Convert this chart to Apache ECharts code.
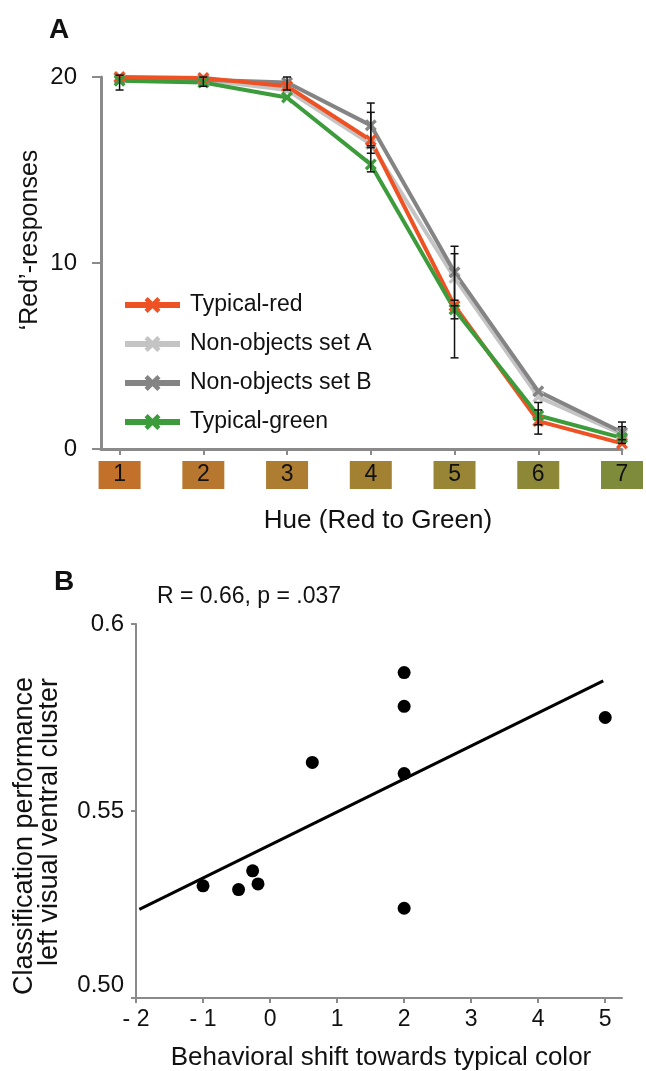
<!DOCTYPE html>
<html>
<head>
<meta charset="utf-8">
<script src="https://cdn.jsdelivr.net/npm/echarts@6/dist/echarts.min.js"></script>
<style>
  html, body { margin: 0; padding: 0; background: #fff; }
  #chart { width: 646px; height: 1071px; }
</style>
</head>
<body>
<div id="chart"></div>
<script>
// panel A: hue steps and 'red' response counts
const hues = [1, 2, 3, 4, 5, 6, 7];
const hueColors = ['#c2712b', '#b8772e', '#ad7d31', '#a28133', '#988536', '#8d8838', '#7e8b3b'];
const typicalRed = [20.0, 19.95, 19.5, 16.6, 7.7, 1.5, 0.3];
const nonObjectsA = [19.9, 19.85, 19.3, 16.4, 9.2, 2.8, 0.8];
const nonObjectsB = [19.95, 19.85, 19.7, 17.4, 9.5, 3.1, 0.9];
const typicalGreen = [19.8, 19.7, 18.9, 15.3, 7.5, 1.8, 0.6];
// [hue, low, high]
const errorBars = [
  [1, 19.3, 20.1], [2, 19.5, 20.0], [3, 19.3, 20.0],
  [4, 16.3, 18.6], [4, 15.9, 18.1], [4, 14.9, 16.2],
  [5, 7.0, 10.5], [5, 8.0, 10.9], [5, 4.9, 7.7],
  [6, 0.8, 2.5], [6, 1.3, 2.1],
  [7, 0.3, 1.45], [7, 0.5, 1.2]
];

// panel B: behavioural shift vs classification performance
const shift = [2, 2, 2, 2, 5, 0.63, -1, -0.47, -0.26, -0.18];
const classPerf = [0.587, 0.578, 0.560, 0.524, 0.575, 0.563, 0.530, 0.529, 0.534, 0.5305];
const fitLine = [[-1.95, 0.5237], [4.97, 0.5848]];
const shiftTicks = [-2, -1, 0, 1, 2, 3, 4, 5];

const FONT = '"Liberation Sans", Arial, sans-serif';
const AXIS_GRAY = '#8a8a8a';
const xShape = 'path://M0,2 L2,0 L5,3 L8,0 L10,2 L7,5 L10,8 L8,10 L5,7 L2,10 L0,8 L3,5 Z';

let hueRich = {};
hues.forEach((h, i) => {
  hueRich['c' + h] = {
    backgroundColor: hueColors[i], width: 42, height: 28, lineHeight: 28,
    align: 'center', fontSize: 23, color: '#111', fontFamily: FONT
  };
});

function lineSeries(name, values, color) {
  return {
    name: name, type: 'line', xAxisIndex: 0, yAxisIndex: 0,
    data: hues.map((h, i) => [h, values[i]]),
    symbol: xShape, symbolSize: 12,
    itemStyle: { color: color },
    lineStyle: { color: color, width: 4 }
  };
}

function renderErr(params, api) {
  let lo = api.coord([api.value(0), api.value(1)]);
  let hi = api.coord([api.value(0), api.value(2)]);
  let w = 4;
  let st = { stroke: '#111', lineWidth: 1.5 };
  return {
    type: 'group',
    children: [
      { type: 'line', shape: { x1: lo[0], y1: lo[1], x2: hi[0], y2: hi[1] }, style: st },
      { type: 'line', shape: { x1: lo[0] - w, y1: lo[1], x2: lo[0] + w, y2: lo[1] }, style: st },
      { type: 'line', shape: { x1: hi[0] - w, y1: hi[1], x2: hi[0] + w, y2: hi[1] }, style: st }
    ]
  };
}

let chart = echarts.init(document.getElementById('chart'));

chart.setOption({
  animation: false,
  backgroundColor: '#fff',
  textStyle: { fontFamily: FONT },
  grid: [
    { left: 101, top: 77, width: 533, height: 372 },
    { left: 136, top: 624, width: 486, height: 374 }
  ],
  legend: {
    data: ['Typical-red', 'Non-objects set A', 'Non-objects set B', 'Typical-green'],
    orient: 'vertical', left: 117, top: 287,
    itemWidth: 55, itemHeight: 20, itemGap: 13,
    lineStyle: { width: 6 },
    textStyle: { fontSize: 23, color: '#111', lineHeight: 26, padding: [0, 0, 0, 5], fontFamily: FONT }
  },
  xAxis: [
    {
      type: 'value', gridIndex: 0, min: 0.778, max: 7,
      axisLine: { onZero: false, lineStyle: { color: AXIS_GRAY, width: 3 } },
      axisTick: { customValues: hues, length: 6, lineStyle: { color: AXIS_GRAY, width: 2 } },
      axisLabel: {
        customValues: hues, margin: 12,
        formatter: v => '{c' + v + '|' + v + '}',
        rich: hueRich
      },
      splitLine: { show: false }
    },
    {
      type: 'value', gridIndex: 1, min: -2, max: 5.25,
      axisLine: { onZero: false, lineStyle: { color: AXIS_GRAY, width: 2 } },
      axisTick: { customValues: shiftTicks, length: 5, lineStyle: { color: AXIS_GRAY, width: 2 } },
      axisLabel: {
        customValues: shiftTicks, margin: 10, fontSize: 23, color: '#111',
        formatter: v => v < 0 ? '- ' + Math.abs(v) : String(v)
      },
      splitLine: { show: false }
    }
  ],
  yAxis: [
    {
      type: 'value', gridIndex: 0, min: 0, max: 20, interval: 10,
      axisLine: { show: true, onZero: false, lineStyle: { color: AXIS_GRAY, width: 3 } },
      axisTick: { show: true, length: 9, lineStyle: { color: AXIS_GRAY, width: 2 } },
      axisLabel: { fontSize: 24, color: '#111', margin: 24 },
      splitLine: { show: false }
    },
    {
      type: 'value', gridIndex: 1, min: 0.5, max: 0.6, interval: 0.05,
      axisLine: { show: true, onZero: false, lineStyle: { color: AXIS_GRAY, width: 2 } },
      axisTick: { show: true, length: 5, lineStyle: { color: AXIS_GRAY, width: 2 } },
      axisLabel: {
        fontSize: 24, color: '#111', margin: 12,
        formatter: v => {
          if (Math.abs(v - 0.6) < 1e-6) return '0.6';
          if (Math.abs(v - 0.5) < 1e-6) return '{lo|0.50}';
          return v.toFixed(2);
        },
        rich: { lo: { fontSize: 24, color: '#111', padding: [0, 0, 26, 0] } }
      },
      splitLine: { show: false }
    }
  ],
  graphic: [
    { type: 'text', left: 49, top: 16, style: { text: 'A', font: 'bold 28px ' + FONT, fill: '#111' } },
    { type: 'text', left: 54, top: 568, style: { text: 'B', font: 'bold 28px ' + FONT, fill: '#111' } },
    {
      type: 'text', x: 30, y: 240, rotation: Math.PI / 2,
      style: { text: '\u2018Red\u2019-responses', font: '25px ' + FONT, fill: '#111', align: 'center', verticalAlign: 'middle' }
    },
    {
      type: 'text', x: 378, y: 521,
      style: { text: 'Hue (Red to Green)', font: '26px ' + FONT, fill: '#111', align: 'center', verticalAlign: 'middle' }
    },
    {
      type: 'text', left: 157, top: 585,
      style: { text: 'R = 0.66, p = .037', font: '23px ' + FONT, fill: '#111' }
    },
    {
      type: 'text', x: 25, y: 836, rotation: Math.PI / 2,
      style: { text: 'Classification performance', font: '27px ' + FONT, fill: '#111', align: 'center', verticalAlign: 'middle' }
    },
    {
      type: 'text', x: 50, y: 822, rotation: Math.PI / 2,
      style: { text: 'left visual ventral cluster', font: '27px ' + FONT, fill: '#111', align: 'center', verticalAlign: 'middle' }
    },
    {
      type: 'text', x: 381, y: 1058,
      style: { text: 'Behavioral shift towards typical color', font: '26px ' + FONT, fill: '#111', align: 'center', verticalAlign: 'middle' }
    }
  ],
  series: [
    lineSeries('Non-objects set A', nonObjectsA, '#c4c4c4'),
    lineSeries('Non-objects set B', nonObjectsB, '#848484'),
    lineSeries('Typical-red', typicalRed, '#ee5224'),
    lineSeries('Typical-green', typicalGreen, '#3c9c3c'),
    {
      type: 'custom', xAxisIndex: 0, yAxisIndex: 0,
      renderItem: renderErr, data: errorBars,
      encode: { x: 0, y: [1, 2] }, z: 5, silent: true
    },
    {
      type: 'line', xAxisIndex: 1, yAxisIndex: 1,
      data: fitLine, symbol: 'none',
      lineStyle: { color: '#000', width: 3 }
    },
    {
      type: 'scatter', xAxisIndex: 1, yAxisIndex: 1,
      data: shift.map((s, i) => [s, classPerf[i]]),
      symbolSize: 13, itemStyle: { color: '#000', opacity: 1 }
    }
  ]
});
</script>
</body>
</html>
